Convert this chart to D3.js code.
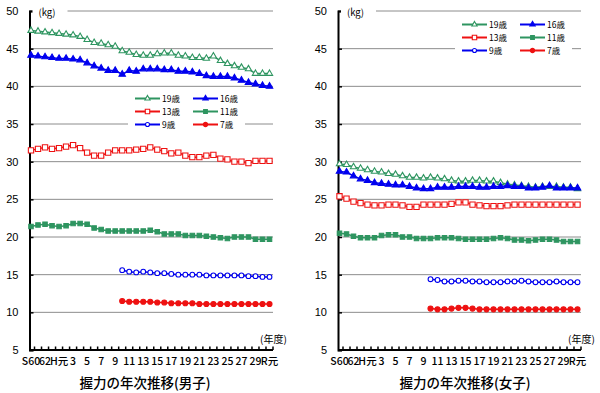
<!DOCTYPE html>
<html>
<head>
<meta charset="utf-8">
<script src="https://cdn.jsdelivr.net/npm/d3@7"></script>
<style>
  body { margin: 0; background: #fff; }
  svg { display: block; font-family: "Liberation Sans", Arial, sans-serif; }
  .jp { font-family: "Noto Sans CJK JP", sans-serif; }
</style>
</head>
<body>
<div id="chart"></div>
<script>
// school years on the x axis (S60 .. R元)
const years = ["S60", "S61", "S62", "S63", "H元", "H2", "H3", "H4", "H5", "H6", "H7", "H8", "H9",
  "H10", "H11", "H12", "H13", "H14", "H15", "H16", "H17", "H18", "H19", "H20", "H21", "H22",
  "H23", "H24", "H25", "H26", "H27", "H28", "H29", "H30", "R元"];
// 7 and 9 year olds are only measured from H10
const youngYears = years.slice(13);

// label shown under every other year
const tickLabels = ["S60", "62", "H元", "3", "5", "7", "9", "11", "13", "15", "17", "19",
  "21", "23", "25", "27", "29", "R元"];
const yTicks = [5, 10, 15, 20, 25, 30, 35, 40, 45, 50];

// grip strength (kg), boys
const boys19 = [47.4, 47.3, 47.2, 47.1, 47.0, 46.9, 46.8, 46.6, 46.2, 45.8, 45.7, 45.5, 45.3, 44.7, 44.5, 44.2, 44.1, 44.1, 44.3, 44.4, 44.4, 44.1, 44.0, 43.8, 43.8, 43.7, 44.0, 43.4, 43.0, 42.7, 42.5, 42.3, 41.7, 41.7, 41.7];
const boys16 = [44.1, 44.0, 43.9, 43.8, 43.7, 43.7, 43.6, 43.5, 43.1, 42.7, 42.4, 42.1, 42.1, 41.6, 42.1, 42.0, 42.3, 42.3, 42.3, 42.2, 42.2, 42.0, 42.0, 41.9, 41.7, 41.4, 41.3, 41.3, 41.3, 41.1, 40.8, 40.5, 40.3, 40.1, 40.0];
const boys13 = [31.5, 31.7, 31.9, 31.7, 31.8, 32.0, 32.2, 31.8, 31.2, 30.8, 30.8, 31.2, 31.5, 31.5, 31.5, 31.6, 31.7, 31.9, 31.6, 31.4, 31.1, 31.2, 30.8, 30.6, 30.6, 30.8, 30.9, 30.4, 30.3, 30.0, 30.0, 29.8, 30.1, 30.1, 30.1];
const boys11 = [21.4, 21.6, 21.7, 21.5, 21.4, 21.5, 21.8, 21.8, 21.7, 21.2, 21.0, 20.8, 20.8, 20.8, 20.8, 20.8, 20.8, 20.9, 20.7, 20.4, 20.4, 20.4, 20.2, 20.2, 20.2, 20.1, 20.0, 19.9, 19.8, 20.0, 20.0, 20.0, 19.7, 19.7, 19.7];
const boys9 = [15.6, 15.4, 15.3, 15.4, 15.3, 15.2, 15.2, 15.1, 15.0, 15.0, 15.0, 15.0, 14.9, 14.9, 14.9, 14.9, 14.9, 14.9, 14.8, 14.8, 14.7, 14.7];
const boys7 = [11.5, 11.4, 11.4, 11.4, 11.4, 11.3, 11.3, 11.2, 11.2, 11.2, 11.2, 11.1, 11.1, 11.1, 11.1, 11.1, 11.1, 11.1, 11.1, 11.1, 11.1, 11.1];

// grip strength (kg), girls
const girls19 = [29.7, 29.6, 29.3, 29.1, 28.9, 28.7, 28.6, 28.4, 28.3, 28.1, 27.9, 27.9, 27.8, 27.9, 27.8, 27.7, 27.5, 27.4, 27.4, 27.5, 27.5, 27.4, 27.4, 27.2, 27.0, 26.9, 26.8, 26.7, 26.6, 26.7, 26.7, 26.7, 26.6, 26.6, 26.4];
const girls16 = [28.7, 28.6, 28.1, 27.7, 27.5, 27.2, 27.1, 27.0, 26.9, 26.9, 26.7, 26.5, 26.4, 26.4, 26.6, 26.6, 26.6, 26.7, 26.7, 26.7, 26.6, 26.6, 26.7, 26.7, 26.8, 26.7, 26.7, 26.5, 26.5, 26.6, 26.8, 26.5, 26.5, 26.5, 26.5];
const girls13 = [25.4, 25.1, 24.7, 24.5, 24.3, 24.2, 24.2, 24.3, 24.3, 24.2, 24.0, 24.0, 24.3, 24.3, 24.3, 24.3, 24.4, 24.6, 24.6, 24.3, 24.2, 24.1, 24.1, 24.1, 24.2, 24.3, 24.3, 24.3, 24.3, 24.3, 24.3, 24.3, 24.3, 24.3, 24.3];
const girls11 = [20.5, 20.4, 20.1, 19.9, 19.9, 19.9, 20.2, 20.3, 20.3, 20.0, 20.0, 19.8, 19.8, 19.8, 19.9, 19.9, 19.9, 19.8, 19.7, 19.7, 19.7, 19.7, 19.8, 19.9, 19.8, 19.6, 19.6, 19.5, 19.6, 19.7, 19.7, 19.6, 19.4, 19.4, 19.4];
const girls9 = [14.4, 14.3, 14.1, 14.1, 14.2, 14.2, 14.1, 14.1, 14.0, 14.0, 14.0, 14.1, 14.1, 14.2, 14.1, 14.0, 14.0, 14.0, 14.1, 14.0, 14.0, 14.0];
const girls7 = [10.5, 10.4, 10.4, 10.5, 10.6, 10.6, 10.5, 10.4, 10.4, 10.4, 10.4, 10.4, 10.4, 10.4, 10.4, 10.4, 10.4, 10.4, 10.4, 10.4, 10.4, 10.4];

const ageNames = ["19歳", "16歳", "13歳", "11歳", "9歳", "7歳"];

let green = "#2e9560", blue = "#0000ee", red = "#ee1111";
let styles = {
  "19歳": { color: green, shape: d3.symbolTriangle, size: 17, fill: "#fff" },
  "16歳": { color: blue, shape: d3.symbolTriangle, size: 18, fill: blue },
  "13歳": { color: red, shape: d3.symbolSquare, size: 28, fill: "#fff" },
  "11歳": { color: green, shape: d3.symbolSquare, size: 20, fill: green },
  "9歳": { color: blue, shape: d3.symbolCircle, size: 18, fill: "#fff" },
  "7歳": { color: red, shape: d3.symbolCircle, size: 20, fill: red }
};

let svg = d3.select("#chart").append("svg")
  .attr("width", 600)
  .attr("height", 393);

let y = d3.scaleLinear().domain([5, 50]).range([350, 11]);

function drawPanel(p) {
  let g = svg.append("g");
  let x = d3.scalePoint().domain(years).range([p.first, p.last]);
  let step = x.step();

  // gridlines
  g.selectAll(".grid").data(yTicks.filter(d => d > 5)).enter().append("line")
    .attr("x1", p.left).attr("x2", p.right)
    .attr("y1", d => y(d)).attr("y2", d => y(d))
    .attr("stroke", "#8c8c8c").attr("stroke-width", 1);

  // y axis
  let yAxis = d3.axisLeft(y).tickValues(yTicks).tickSize(-4).tickPadding(11);
  let ya = g.append("g").attr("transform", `translate(${p.left},0)`).call(yAxis);
  ya.select(".domain").attr("stroke", "#000").attr("stroke-width", 2);
  ya.selectAll(".tick line").attr("stroke", "#000").attr("stroke-width", 1.5);
  ya.selectAll(".tick text").attr("font-size", 11).attr("fill", "#000");

  // x axis
  let xa = g.append("g").attr("transform", `translate(0,350)`);
  xa.append("line").attr("x1", p.left).attr("x2", p.right).attr("stroke", "#000").attr("stroke-width", 2);
  xa.selectAll(".xt").data(years).enter().append("line")
    .attr("x1", d => x(d) + step / 2).attr("x2", d => x(d) + step / 2)
    .attr("y1", 0).attr("y2", -3.5)
    .attr("stroke", "#000").attr("stroke-width", 1.5);
  xa.selectAll(".xl").data(years.filter((d, i) => i % 2 === 0)).enter().append("text")
    .attr("class", "jp")
    .attr("x", d => x(d)).attr("y", 15)
    .attr("text-anchor", "middle")
    .attr("font-size", 10.5)
    .attr("font-weight", 500)
    .text((d, i) => tickLabels[i]);

  // kg label with white background
  g.append("rect").attr("x", p.left + 3).attr("y", 5).attr("width", 35).attr("height", 12).attr("fill", "#fff");
  g.append("text").attr("class", "jp")
    .attr("x", p.left + 9).attr("y", 15.5)
    .attr("font-size", 9.5)
    .text("(kg)");

  g.append("text").attr("class", "jp")
    .attr("x", p.right - 13).attr("y", 343)
    .attr("font-size", 10)
    .text("(年度)");

  // legend box
  let lg = g.append("g");
  lg.append("rect").attr("x", p.legendX - 7).attr("y", p.legendY - 9)
    .attr("width", 117).attr("height", 41).attr("fill", "#fff");

  let line = d3.line().x(d => d.x).y(d => y(d.v));

  p.series.forEach(function (s, k) {
    let st = styles[s.name];
    let cats = s.values.length === years.length ? years : youngYears;
    let pts = s.values.map((v, i) => ({ x: x(cats[i]), v: v }));
    g.append("path").datum(pts)
      .attr("d", line)
      .attr("fill", "none")
      .attr("stroke", st.color)
      .attr("stroke-width", 1.5);
    g.selectAll(null).data(pts).enter().append("path")
      .attr("transform", d => `translate(${d.x},${y(d.v)})`)
      .attr("d", d3.symbol().type(st.shape).size(st.size))
      .attr("fill", st.fill)
      .attr("stroke", st.color)
      .attr("stroke-width", 1.1);

    // legend entry
    let lx = p.legendX + (k % 2) * 58;
    let ly = p.legendY + Math.floor(k / 2) * 13;
    lg.append("line").attr("x1", lx).attr("x2", lx + 25).attr("y1", ly).attr("y2", ly)
      .attr("stroke", st.color).attr("stroke-width", 2);
    lg.append("path")
      .attr("transform", `translate(${lx + 12.5},${ly})`)
      .attr("d", d3.symbol().type(st.shape).size(st.size * 0.7))
      .attr("fill", st.fill).attr("stroke", st.color).attr("stroke-width", 1.1);
    lg.append("text").attr("class", "jp")
      .attr("x", lx + 27).attr("y", ly + 3.5)
      .attr("font-size", 8.5)
      .text(s.name);
  });

  g.append("text").attr("class", "jp")
    .attr("x", p.titleX).attr("y", 388)
    .attr("text-anchor", "middle")
    .attr("font-size", 13.5)
    .attr("font-weight", 500)
    .text(p.title);
}

drawPanel({
  left: 29.5, right: 273, first: 31, last: 269.5,
  legendX: 135, legendY: 98.5, titleX: 145,
  title: "握力の年次推移(男子)",
  series: [boys19, boys16, boys13, boys11, boys9, boys7].map((v, i) => ({ name: ageNames[i], values: v }))
});

drawPanel({
  left: 338, right: 581, first: 339.5, last: 577.5,
  legendX: 462, legendY: 24.5, titleX: 465,
  title: "握力の年次推移(女子)",
  series: [girls19, girls16, girls13, girls11, girls9, girls7].map((v, i) => ({ name: ageNames[i], values: v }))
});
</script>
</body>
</html>
